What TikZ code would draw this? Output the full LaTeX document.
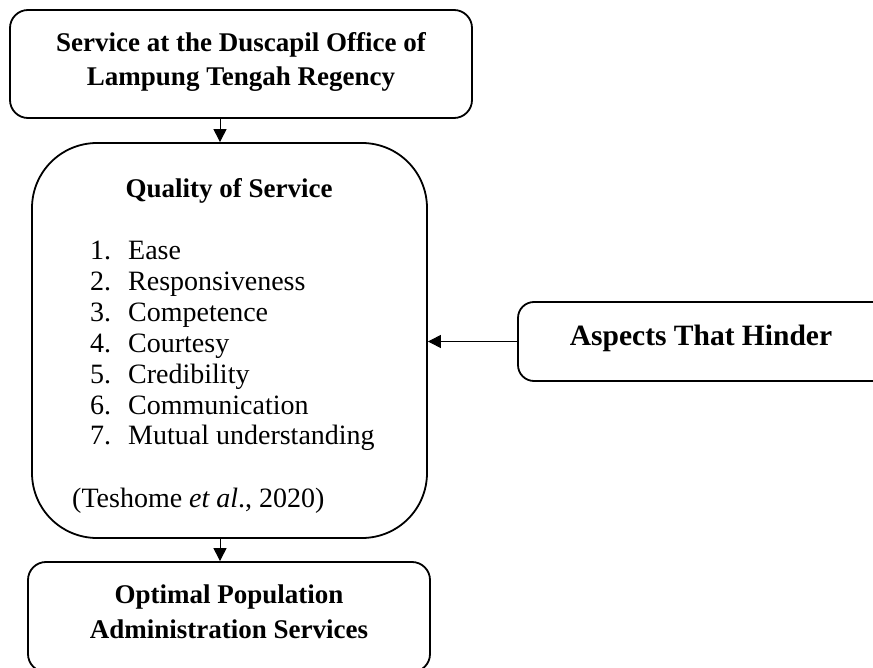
\documentclass[tikz,border=0pt]{standalone}
\usepackage{fontspec}
\setmainfont{Liberation Serif}
\usetikzlibrary{arrows.meta}
\begin{document}
\begin{tikzpicture}[x=1pt,y=-1pt,
 box/.style={draw, line width=1.8pt, inner sep=0pt},
 ttl/.style={font=\fontsize{27}{32}\selectfont\bfseries, anchor=base, inner sep=0pt},
 itm/.style={font=\fontsize{28}{32}\selectfont, anchor=base west, inner sep=0pt},
 conn/.style={line width=1pt, -{Triangle[length=13pt,width=13pt]}}]
\useasboundingbox (0,0) rectangle (873,668);
\clip (0,0) rectangle (873,668);
% boxes
\node[box, rounded corners=18pt, minimum width=462pt, minimum height=108pt] (top) at (241,64) {};
\node[box, rounded corners=65pt, minimum width=395pt, minimum height=395pt] (quality) at (229.5,340.5) {};
\node[box, rounded corners=18pt, minimum width=402pt, minimum height=110pt] (bottom) at (229,617) {};
\node[box, rounded corners=16pt, minimum width=372pt, minimum height=79pt] (aspects) at (704,341.5) {};
% texts
\node[ttl] (t1) at (241,52) {Service at the Duscapil Office of};
\node[ttl] (t2) at (241,86) {Lampung Tengah Regency};
\node[ttl] (q) at (229,198) {Quality of Service};
\foreach \n/\t [count=\i from 0] in {1/Ease,2/Responsiveness,3/Competence,4/Courtesy,5/Credibility,6/Communication,7/Mutual understanding}{
  \node[itm] (n\n) at (90,260+\i*30.8) {\n.};
  \node[itm] (i\n) at (128,260+\i*30.8) {\t};
}
\node[itm] (cite) at (72,507) {(Teshome \textit{et al}., 2020)};
\node[ttl] (b1) at (229,603) {Optimal Population};
\node[ttl] (b2) at (229,638) {Administration Services};
\node[ttl, font=\fontsize{29.5}{34}\selectfont\bfseries] (a1) at (701,345) {Aspects That Hinder};
% connectors
\draw[conn] ([xshift=-21pt]top.south) -- ([xshift=-21pt]top.south |- quality.north);
\draw[conn] ([xshift=-9.5pt]quality.south) -- ([xshift=-9.5pt]quality.south |- bottom.north);
\draw[conn] (aspects.west) -- (aspects.west -| quality.east);
\end{tikzpicture}
\end{document}
